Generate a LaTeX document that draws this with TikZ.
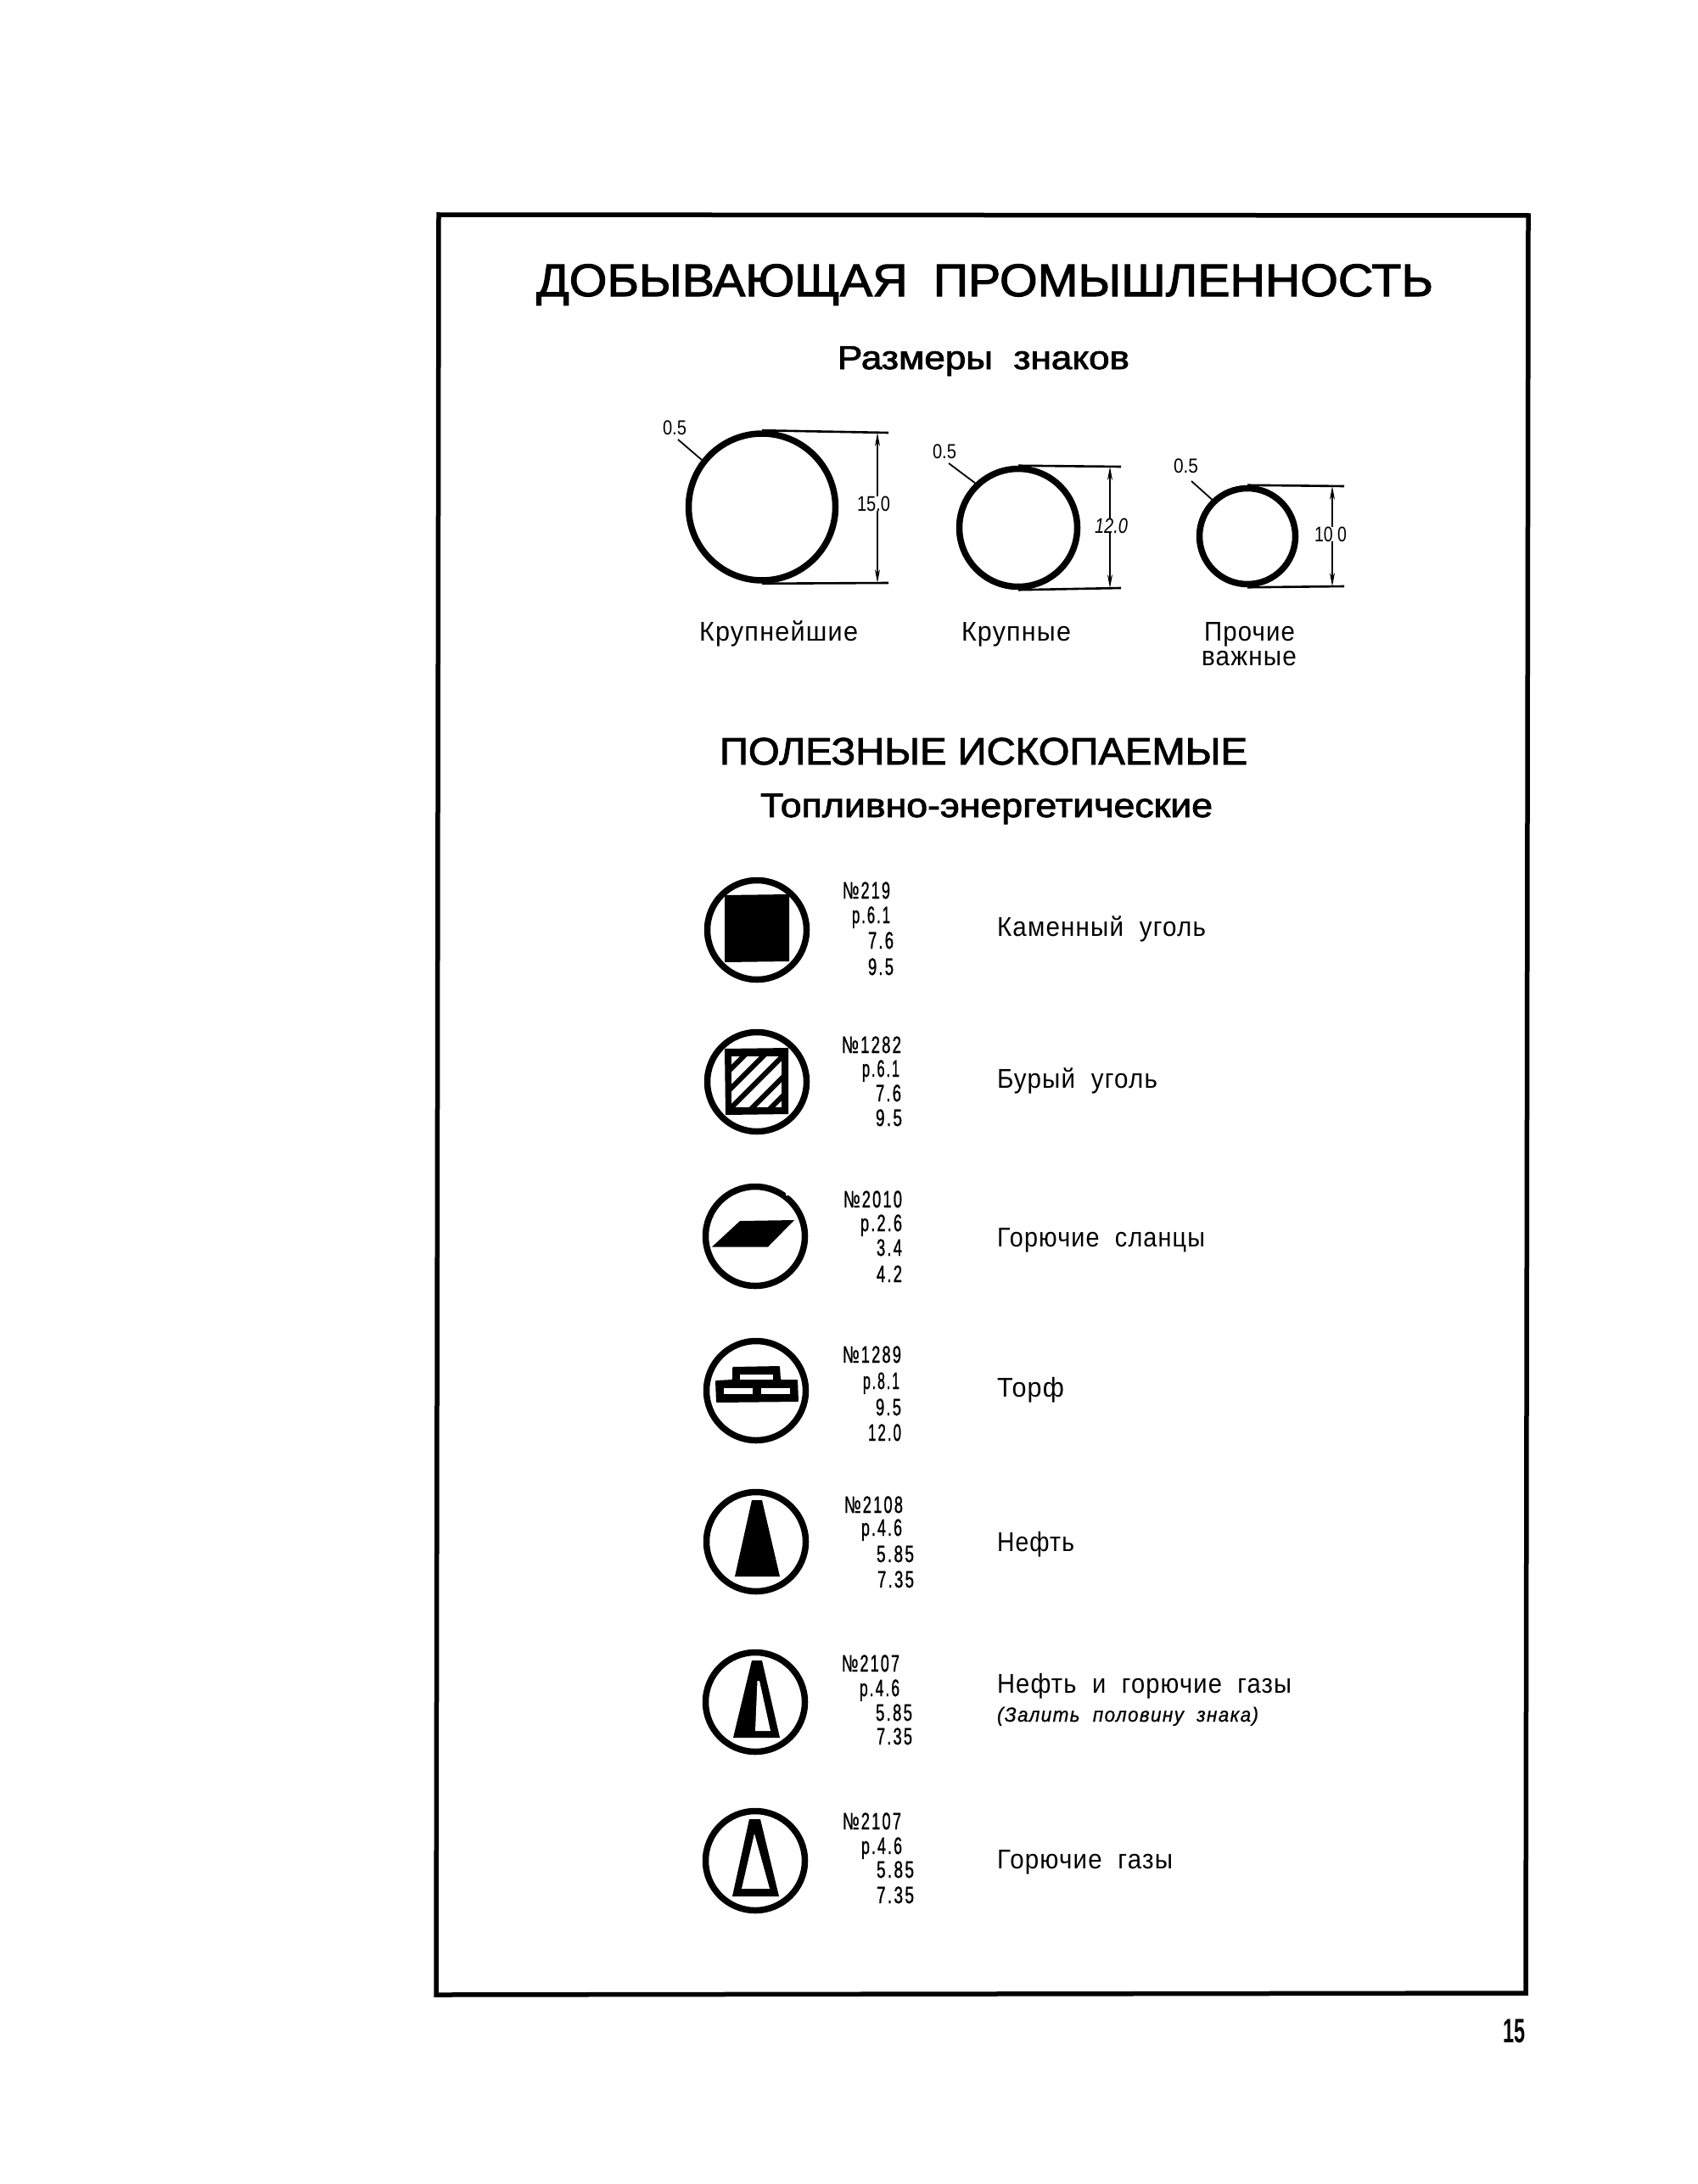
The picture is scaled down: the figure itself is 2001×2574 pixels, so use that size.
\documentclass[tikz,border=0pt]{standalone}
\usepackage{fontspec}
\usepackage{graphicx}
\setmainfont{Liberation Sans}
\newfontfamily\medf[FakeBold=2]{Liberation Sans}
\newfontfamily\numf[FakeBold=1.4,LetterSpace=12]{Liberation Sans}
\newfontfamily\labf[LetterSpace=4]{Liberation Sans}
\newfontfamily\boldf{Liberation Sans Bold}
\newfontfamily\itf[FakeBold=0.8,LetterSpace=6]{Liberation Sans Italic}
\usetikzlibrary{arrows.meta}
\newcommand\Fs[1]{\fontsize{#1pt}{#1pt}\selectfont}
% name, x, baseline y, width, font, text
\newcommand\T[6]{\node[txt] (#1) at (#2,#3) {#5\resizebox{#4pt}{\height}{#6}};}
\newcommand\Num[5]{\T{#1}{#2}{#3}{#4}{\numf\Fs{28}}{#5}}
\tikzset{
  txt/.style={anchor=base west,inner sep=0pt,outer sep=0pt},
  ring/.style={circle,draw=black,line width=7.5pt,inner sep=0pt,fill=none},
  dimarrow/.style={line width=1.8pt,-{Stealth[length=16pt,width=6pt]}},
  extline/.style={line width=2.6pt},
  leader/.style={line width=1.8pt},
  ink/.style={fill=black,draw=none},
  paper/.style={fill=white,draw=none},
}
\begin{document}
\begin{tikzpicture}[x=1pt,y=-1pt]
\useasboundingbox (0,0) rectangle (2001,2574);
\fill[white] (0,0) rectangle (2001,2574);
% frame
\draw[line width=5.5pt,line join=miter] (517,253) -- (1801,254) -- (1798,2349) -- (514,2351) -- cycle;
% headings
\T{title}{632}{349}{1057}{\medf\Fs{54}}{ДОБЫВАЮЩАЯ\hspace{.25em} ПРОМЫШЛЕННОСТЬ}
\T{sizes}{987}{435}{344}{\medf\Fs{39}}{Размеры\ \ знаков}
\T{mineral}{848}{901}{622}{\medf\Fs{45}}{ПОЛЕЗНЫЕ ИСКОПАЕМЫЕ}
\T{fuel}{896}{963}{533}{\medf\Fs{40}}{Топливно-энергетические}
% size circles
\node[ring,minimum size=173pt] (c1) at (898,597.5) {};
\node[ring,minimum size=139pt] (c2) at (1200,622) {};
\node[ring,minimum size=113pt] (c3) at (1470,632) {};
\coordinate (e1t) at (1047,510); \coordinate (e1b) at (1047,687);
\coordinate (e2t) at (1321,550); \coordinate (e2b) at (1321,693);
\coordinate (e3t) at (1584,573); \coordinate (e3b) at (1584,691);
\coordinate (d1t) at (1034,510); \coordinate (d1b) at (1034,687);
\coordinate (d2t) at (1308,550); \coordinate (d2b) at (1308,693);
\coordinate (d3t) at (1570,573); \coordinate (d3b) at (1570,691);
\draw[extline] (c1.north) -- (e1t);
\draw[extline] (c1.south) -- (e1b);
\draw[extline] (c2.north) -- (e2t);
\draw[extline] (c2.south) -- (e2b);
\draw[extline] (c3.north) -- (e3t);
\draw[extline] (c3.south) -- (e3b);
\T{d1}{1010}{602}{39}{\Fs{25}}{15.0}
\T{d2}{1290}{628}{39}{\itshape\Fs{25}}{12.0}
\T{d3}{1549}{638}{38}{\Fs{25}}{10\ 0}
\draw[dimarrow] (d1.north -| d1t) -- (d1t);
\draw[dimarrow] (d1.south -| d1b) -- (d1b);
\draw[dimarrow] (d2.north -| d2t) -- (d2t);
\draw[dimarrow] (d2.south -| d2b) -- (d2b);
\draw[dimarrow] (d3.north -| d3t) -- (d3t);
\draw[dimarrow] (d3.south -| d3b) -- (d3b);
\T{w1}{781}{512}{28}{\Fs{24}}{0.5}
\T{w2}{1099}{540}{28}{\Fs{24}}{0.5}
\T{w3}{1383}{557}{29}{\Fs{24}}{0.5}
\coordinate (a1) at (799,518); \coordinate (a2) at (1118,546); \coordinate (a3) at (1404,567);
\draw[leader] (a1) -- (c1.142);
\draw[leader] (a2) -- (c2.134);
\draw[leader] (a3) -- (c3.134);
\T{s1}{824}{755}{187}{\labf\Fs{32}}{Крупнейшие}
\T{s2}{1133}{755}{129}{\labf\Fs{32}}{Крупные}
\T{s3}{1419}{755}{107}{\labf\Fs{32}}{Прочие}
\T{s4}{1416}{784}{112}{\labf\Fs{32}}{важные}
% icon rings
\node[ring,minimum size=117pt] (i1) at (892,1096) {};
\node[ring,minimum size=117pt] (i2) at (892,1275) {};
\node[ring,minimum size=117pt] (i3) at (890,1457) {};
\node[ring,minimum size=117pt] (i4) at (891,1639) {};
\node[ring,minimum size=117pt] (i5) at (891,1817) {};
\node[ring,minimum size=117pt] (i6) at (890,2006) {};
\node[ring,minimum size=117pt] (i7) at (890,2193) {};
% coal
\fill[ink] (854,1055) -- (930,1054) -- (930,1133) -- (854,1134) -- cycle;
% brown coal
\fill[ink] (854,1236) -- (929,1235) -- (929,1313) -- (855,1314) -- cycle;
\begin{scope}
\path[clip] (862,1245) rectangle (921,1305);
\fill[paper] (862,1245) rectangle (921,1305);
\foreach \d in {14,37,60,85,107}
  \draw[line width=6pt] ({862+\d-70},1315) -- ({862+\d+10},1235);
\end{scope}
% oil shale
\fill[ink] (839,1469.5) -- (872,1439) -- (936,1438) -- (905,1469.5) -- cycle;
\fill[paper] (926,1405) rectangle (930,1409);
% peat
\fill[ink,rounded corners=1pt] (863,1611) -- (919,1610) -- (920,1626) -- (940,1626) -- (941,1652) -- (844,1653) -- (843,1627) -- (863,1626) -- cycle;
\fill[paper] (872,1620) rectangle (911,1626);
\fill[paper] (853,1636) rectangle (887,1643);
\fill[paper] (897,1636) rectangle (931,1643);
% oil
\fill[ink] (886,1768) -- (898,1768) -- (919,1858) -- (866,1858) -- cycle;
% oil and gas
\fill[ink] (886,1957) -- (898,1957) -- (919,2048) -- (864,2048) -- cycle;
\fill[paper] (892.5,1981) -- (895,1981) -- (908,2040) -- (890,2040) -- cycle;
% gas
\fill[ink] (883,2144) -- (896,2144) -- (918,2235) -- (863,2235) -- cycle;
\fill[paper] (889,2161) -- (907,2226) -- (874,2226) -- cycle;
% code columns
\Num{n11}{993}{1059}{56}{№219}
\Num{n12}{1004}{1088}{45}{р.6.1}
\Num{n13}{1023}{1118}{30}{7.6}
\Num{n14}{1023}{1149}{30}{9.5}
\Num{n21}{992}{1241}{70}{№1282}
\Num{n22}{1016}{1269}{44}{р.6.1}
\Num{n23}{1032}{1298}{30}{7.6}
\Num{n24}{1032}{1327}{31}{9.5}
\Num{n31}{994}{1423}{69}{№2010}
\Num{n32}{1014}{1451}{49}{р.2.6}
\Num{n33}{1033}{1480}{30}{3.4}
\Num{n34}{1033}{1511}{30}{4.2}
\Num{n41}{993}{1606}{69}{№1289}
\Num{n42}{1017}{1637}{43}{р.8.1}
\Num{n43}{1032}{1668}{30}{9.5}
\Num{n44}{1023}{1698}{39}{12.0}
\Num{n51}{995}{1783}{69}{№2108}
\Num{n52}{1015}{1810}{48}{р.4.6}
\Num{n53}{1033}{1841}{44}{5.85}
\Num{n54}{1034}{1871}{43}{7.35}
\Num{n61}{992}{1970}{68}{№2107}
\Num{n62}{1013}{1999}{47}{р.4.6}
\Num{n63}{1032}{2028}{43}{5.85}
\Num{n64}{1033}{2056}{42}{7.35}
\Num{n71}{993}{2156}{69}{№2107}
\Num{n72}{1015}{2185}{48}{р.4.6}
\Num{n73}{1033}{2213}{44}{5.85}
\Num{n74}{1033}{2243}{44}{7.35}
% names
\T{l1}{1175}{1103}{246}{\labf\Fs{32}}{Каменный\ \ уголь}
\T{l2}{1175}{1282}{189}{\labf\Fs{32}}{Бурый\ \ уголь}
\T{l3}{1175}{1469}{245}{\labf\Fs{32}}{Горючие\ \ сланцы}
\T{l4}{1175}{1646}{79}{\labf\Fs{32}}{Торф}
\T{l5}{1175}{1828}{91}{\labf\Fs{32}}{Нефть}
\T{l6}{1175}{1995}{347}{\labf\Fs{32}}{Нефть\ \ и\ \ горючие\ \ газы}
\T{l6b}{1175}{2029}{308}{\itf\Fs{24}}{(Залить\ \ половину\ \ знака)}
\T{l7}{1175}{2202}{207}{\labf\Fs{32}}{Горючие\ \ газы}
% page number
\T{page}{1771}{2407}{26}{\boldf\Fs{40}}{15}
\end{tikzpicture}
\end{document}
